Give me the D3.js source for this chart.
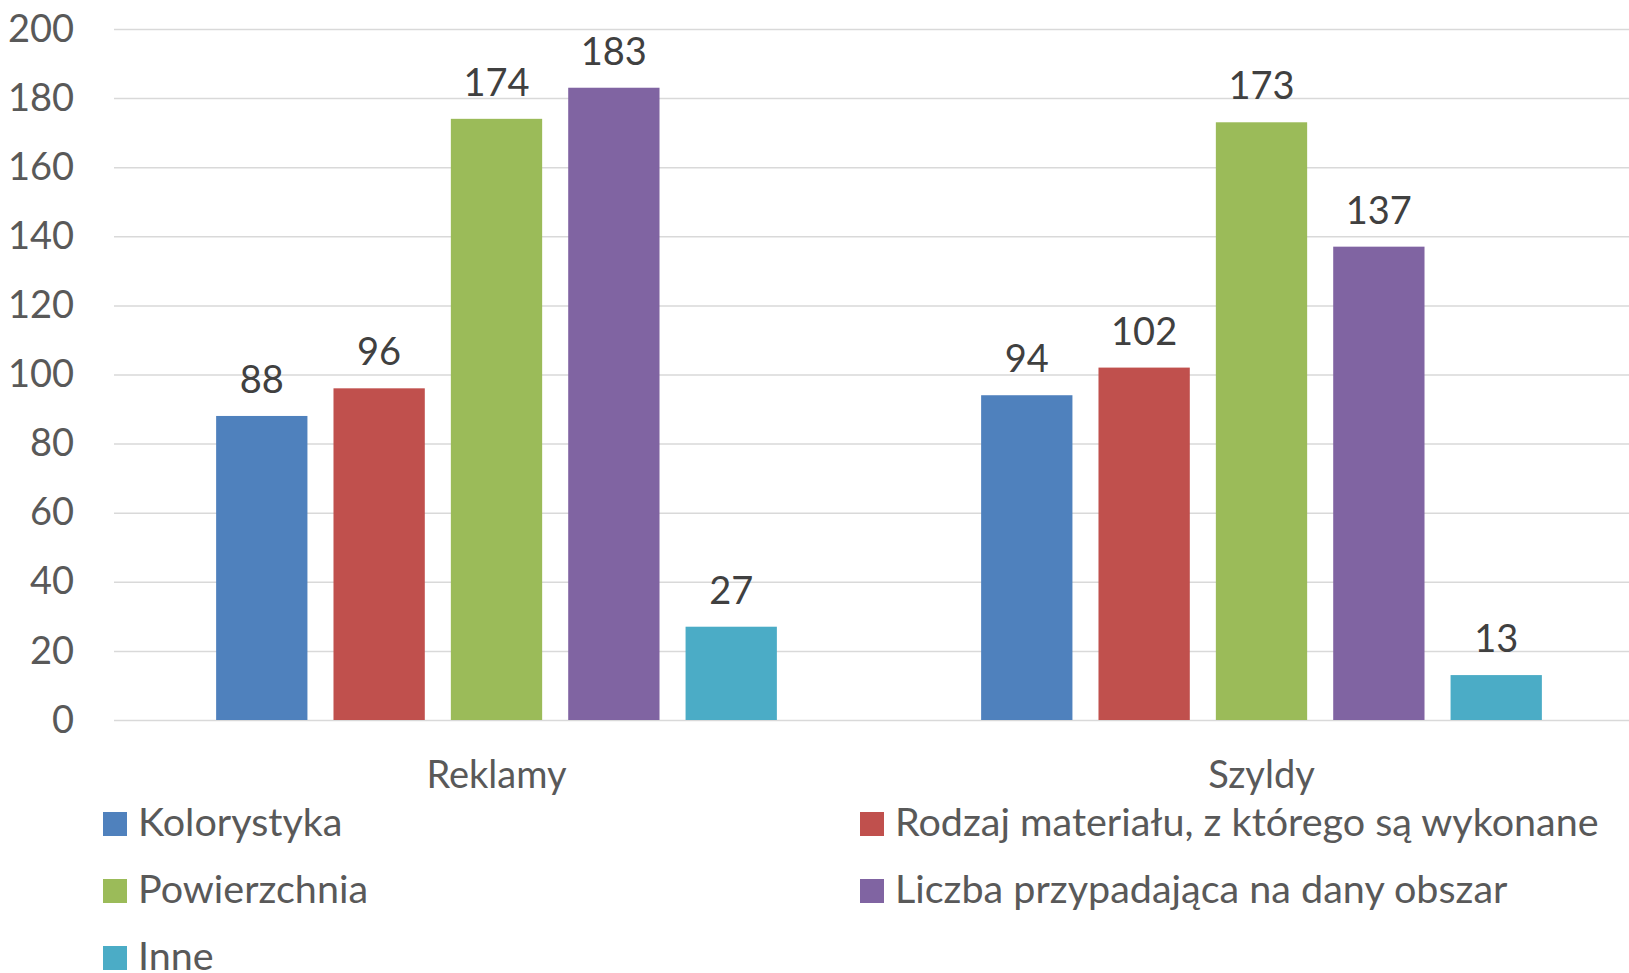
<!DOCTYPE html>
<html>
<head>
<meta charset="utf-8">
<script src="https://cdn.jsdelivr.net/npm/d3@7"></script>
<style>
  body { margin: 0; background: #ffffff; }
  text { font-family: Lato, "Open Sans", sans-serif; }
</style>
</head>
<body>
<div id="main"></div>
<script>
// data
const categories = ["Reklamy", "Szyldy"];
const seriesNames = [
    "Kolorystyka",
    "Rodzaj materiału, z którego są wykonane",
    "Powierzchnia",
    "Liczba przypadająca na dany obszar",
    "Inne"
];
const reklamyValues = [88, 96, 174, 183, 27];
const szyldyValues = [94, 102, 173, 137, 13];
const yTicks = [0, 20, 40, 60, 80, 100, 120, 140, 160, 180, 200];
const seriesColors = ["#4F81BD", "#C0504D", "#9BBB59", "#8064A2", "#4BACC6"];

const ctx = {
    width : 1629,
    height : 973,
    plotLeft : 114,
    plotRight : 1644,
    plotTop : 29,
    plotBottom : 720,
    gridColor : "#D9D9D9",
    axisText : "#595959",
    labelText : "#404040",
    fontSize : 38,
    legendFontSize : 39.5
};

function createViz(){
    let svg = d3.select("#main").append("svg")
        .attr("width", ctx.width)
        .attr("height", ctx.height);

    let table = categories.map((c, i) => ({
        category : c,
        values : [reklamyValues, szyldyValues][i]
    }));

    let x0 = d3.scaleBand()
        .domain(categories)
        .range([ctx.plotLeft, ctx.plotRight])
        .padding(0);
    let groupWidth = x0.bandwidth() * 0.733;
    let groupOffset = (x0.bandwidth() - groupWidth) / 2;
    let x1 = d3.scaleBand()
        .domain(d3.range(seriesNames.length))
        .range([0, groupWidth])
        .paddingInner(0.222)
        .paddingOuter(0);
    let y = d3.scaleLinear()
        .domain([0, 200])
        .range([ctx.plotBottom, ctx.plotTop]);

    // y axis + gridlines
    let yAxis = svg.append("g")
        .attr("transform", "translate(" + ctx.plotLeft + ",0)")
        .call(d3.axisLeft(y)
            .tickValues(yTicks)
            .tickSize(-(ctx.plotRight - ctx.plotLeft))
            .tickPadding(40));
    yAxis.select(".domain").remove();
    yAxis.selectAll(".tick line")
        .attr("stroke", ctx.gridColor)
        .attr("stroke-width", 1.5);
    yAxis.selectAll(".tick text")
        .attr("fill", ctx.axisText)
        .attr("font-size", ctx.fontSize + "px")
        .attr("font-family", "Lato");

    // bars
    let groups = svg.append("g").selectAll("g")
        .data(table)
        .enter()
        .append("g")
        .attr("transform", d => "translate(" + (x0(d.category) + groupOffset) + ",0)");
    groups.selectAll("rect")
        .data(d => d.values)
        .enter()
        .append("rect")
        .attr("x", (d, i) => x1(i))
        .attr("y", d => y(d))
        .attr("width", x1.bandwidth())
        .attr("height", d => y(0) - y(d))
        .attr("fill", (d, i) => seriesColors[i]);
    groups.selectAll("text")
        .data(d => d.values)
        .enter()
        .append("text")
        .attr("x", (d, i) => x1(i) + x1.bandwidth() / 2)
        .attr("y", d => y(d) - 23)
        .attr("text-anchor", "middle")
        .attr("fill", ctx.labelText)
        .attr("font-size", ctx.fontSize + "px")
        .text(d => d);

    // category labels
    svg.append("g").selectAll("text")
        .data(categories)
        .enter()
        .append("text")
        .attr("x", d => x0(d) + x0.bandwidth() / 2)
        .attr("y", 788)
        .attr("text-anchor", "middle")
        .attr("fill", ctx.axisText)
        .attr("font-size", ctx.fontSize + "px")
        .text(d => d);

    // legend
    let legendX = [103, 860];
    let legendY = [812, 879, 946];
    let legend = svg.append("g").selectAll("g")
        .data(seriesNames)
        .enter()
        .append("g")
        .attr("transform", (d, i) => "translate(" + legendX[i % 2] + "," + legendY[Math.floor(i / 2)] + ")");
    legend.append("rect")
        .attr("width", 24)
        .attr("height", 24)
        .attr("fill", (d, i) => seriesColors[i]);
    legend.append("text")
        .attr("x", 35)
        .attr("y", 24)
        .attr("fill", ctx.axisText)
        .attr("font-size", ctx.legendFontSize + "px")
        .text(d => d);
}

createViz();
</script>
</body>
</html>
